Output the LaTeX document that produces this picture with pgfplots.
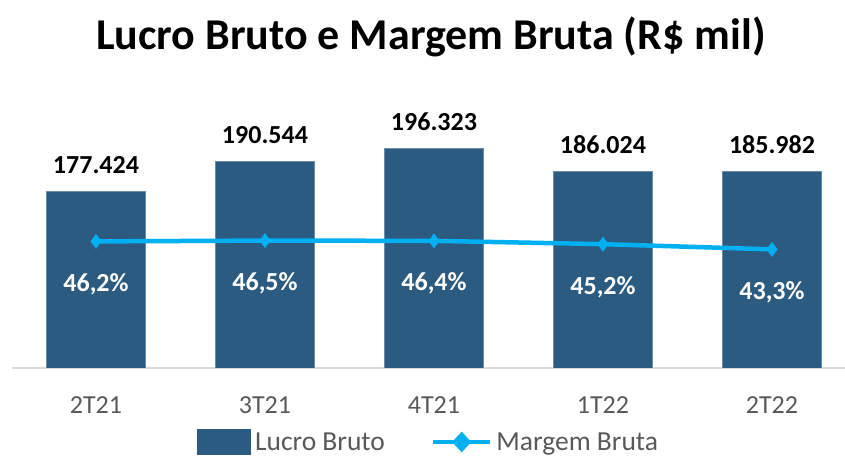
\documentclass[border=0pt]{standalone}
\usepackage{fontspec}
\setmainfont{Carlito}
\usepackage{pgfplots}
\pgfplotsset{compat=1.18}
\definecolor{barblue}{HTML}{2B5B81}
\definecolor{lineblue}{HTML}{00B0F0}
\definecolor{txtgray}{HTML}{595959}
\definecolor{axgray}{HTML}{D9D9D9}

\pgfplotstableread{
x  lucro    margem
0  177.424  46.2
1  190.544  46.5
2  196.323  46.4
3  186.024  45.2
4  185.982  43.3
}\dados

\begin{document}
\begin{tikzpicture}
\useasboundingbox (0,0) rectangle (845pt,457pt);

\node[font=\fontsize{44}{50}\selectfont\bfseries] at (431pt,420pt) {Lucro Bruto e Margem Bruta (R\$ mil)};

\pgfplotsset{
  common/.style={
    at={(11.5pt,89pt)}, anchor=south west,
    scale only axis, width=845pt, height=274pt,
    xmin=-0.5, xmax=4.5,
    /pgf/number format/assume math mode=true,
  }
}

\begin{axis}[
    common,
    ymin=100, ymax=220,
    axis y line=none,
    axis x line*=bottom,
    x axis line style={axgray, line width=1.5pt, -},
    xtick=data,
    xticklabels={2T21,3T21,4T21,1T22,2T22},
    major tick length=0pt,
    xticklabel style={font=\fontsize{26}{30}\selectfont, text=txtgray, anchor=base, yshift=-46pt},
    ybar, bar width=99pt,
    nodes near coords={\pgfmathprintnumber[fixed,precision=3,fixed zerofill]{\pgfplotspointmeta}},
    every node near coord/.append style={font=\fontsize{26}{30}\selectfont\bfseries, text=black, anchor=base, inner sep=0pt, yshift=18pt},
]
\addplot[fill=barblue, draw=barblue!70!white, line width=0.6pt] table[x=x, y=lucro] {\dados};
\end{axis}

\begin{axis}[
    common,
    ymin=0, ymax=100,
    hide axis,
    legend columns=2,
    legend style={draw=none, fill=none, at={(0.4935,-0.27)}, anchor=center,
      font=\fontsize{27.5}{31}\selectfont, text=txtgray,
      /tikz/every even column/.append style={column sep=44pt},
      /tikz/every odd column/.append style={column sep=2pt}},
]
\addlegendimage{area legend, fill=barblue, draw=none,
  legend image code/.code={\fill[barblue] (0pt,-13pt) rectangle (54pt,13pt);}}
\addlegendentry{Lucro Bruto}
\addplot[lineblue, line width=4.5pt, mark=diamond*, mark size=7pt,
  mark options={line width=0.5pt},
  nodes near coords={\pgfmathprintnumber[fixed,precision=1,fixed zerofill,use comma]{\pgfplotspointmeta}\%},
  every node near coord/.append style={font=\fontsize{26}{30}\selectfont\bfseries, text=white, anchor=base, inner sep=0pt, yshift=-50pt},
  legend image code/.code={\draw[lineblue, line width=4.5pt] (0pt,0pt) -- (57pt,0pt);
    \fill[lineblue] (28.5pt,0pt) +(-6.5pt,0pt) -- +(0pt,7pt) -- +(6.5pt,0pt) -- +(0pt,-7pt) -- cycle;},
] table[x=x, y=margem] {\dados};
\addlegendentry{Margem Bruta}
\end{axis}
\end{tikzpicture}
\end{document}
